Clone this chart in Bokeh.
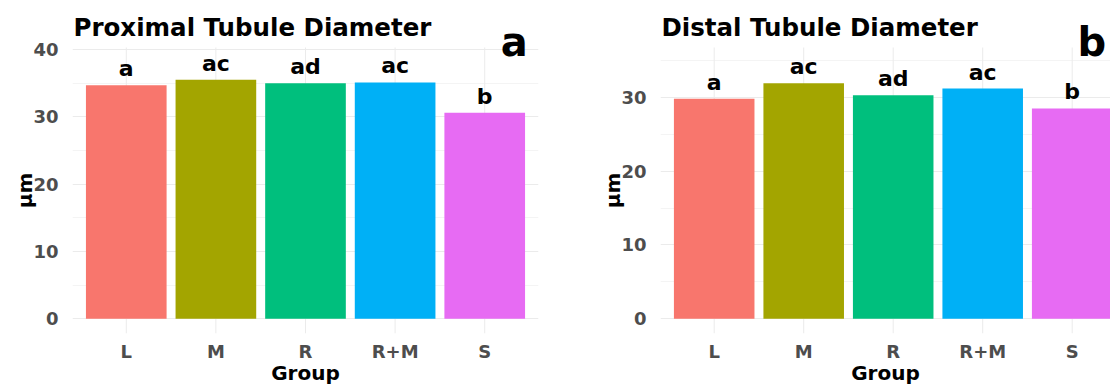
import math
from bokeh.plotting import figure
from bokeh.models import Range1d, FixedTicker, ColumnDataSource, LabelSet, Label
from bokeh.core.properties import value
from bokeh.layouts import row
from bokeh.embed import file_html
from bokeh.resources import INLINE

# ---- data ----
groups = ["L", "M", "R", "R+M", "S"]
colors = ["#F8766D", "#A3A500", "#00BF7D", "#00B0F6", "#E76BF3"]
proximal = [34.7, 35.5, 35.0, 35.1, 30.6]
distal = [29.8, 31.9, 30.3, 31.2, 28.5]
proximal_sig = ["a", "ac", "ad", "ac", "b"]
distal_sig = ["a", "ac", "ad", "ac", "b"]
prox_ticks = [0, 10, 20, 30, 40]
prox_minor = [5, 15, 25, 35]
dist_ticks = [0, 10, 20, 30]
dist_minor = [5, 15, 25, 35]

FONT = "DejaVu Sans"
H = 387
TOP = 4          # frame top (px from figure top)
BOTTOM = 54      # space below the frame
PANEL_TOP = 47   # where the ggplot panel (grid area) starts
YTITLE_GAP = 48  # distance of the y-axis title centre from the panel's left edge


def panel(title, values, sig, tag, ticks, minor, y_start, grid_top, x_end,
          width, border_left, border_right, tag_dx):
    xpos = [i + 1 for i in range(len(groups))]
    frame_h = H - TOP - BOTTOM
    frame_bottom = H - BOTTOM
    grid_h = frame_bottom - PANEL_TOP
    y_end = y_start + (grid_top - y_start) * frame_h / grid_h
    px_per_unit = grid_h / (grid_top - y_start)
    px_per_x = (width - border_left - border_right) / (x_end - 0.4)

    src = ColumnDataSource(dict(x=xpos, top=values, sig=sig, color=colors,
                                y0=[y_start] * len(xpos), y1=[grid_top] * len(xpos)))
    p = figure(width=width, height=H, output_backend="svg", toolbar_location=None,
               title=None,
               x_range=Range1d(0.4, x_end), y_range=Range1d(y_start, y_end),
               min_border_left=border_left, min_border_right=border_right,
               min_border_top=TOP, min_border_bottom=BOTTOM)
    # vertical (category) grid lines, limited to the panel area
    p.segment(x0="x", x1="x", y0="y0", y1="y1", source=src,
              line_color="#EBEBEB", line_width=1)
    p.vbar(x="x", top="top", width=0.9, fill_color="color", line_color=None, source=src)
    p.add_layout(LabelSet(x="x", y="top", text="sig", source=src, y_offset=9,
                          text_align="center", text_baseline="alphabetic",
                          text_font=value(FONT), text_font_style="bold",
                          text_font_size="22px", text_color="black"))
    # title
    p.add_layout(Label(x=1, y=frame_bottom - 26.5, x_units="screen", y_units="screen",
                       text=title, text_align="left", text_baseline="middle",
                       text_font=FONT, text_font_style="bold",
                       text_font_size="24.5px", text_color="black"))
    # panel tag
    p.add_layout(Label(x=len(groups) + tag_dx, y=frame_bottom - 41, y_units="screen",
                       text=tag, text_align="center", text_baseline="middle",
                       text_font=FONT, text_font_style="bold",
                       text_font_size="40px", text_color="black"))
    # y axis title, centred on the panel area
    p.add_layout(Label(x=0.4 - YTITLE_GAP / px_per_x,
                       y=y_start + (grid_h / 2) / px_per_unit,
                       text="µm", angle=math.pi / 2, text_align="center",
                       text_baseline="middle", text_font=FONT,
                       text_font_style="bold", text_font_size="20px",
                       text_color="black"), "left")

    p.xaxis.ticker = FixedTicker(ticks=xpos)
    p.xaxis.major_label_overrides = {float(x): g for x, g in zip(xpos, groups)}
    p.yaxis.ticker = FixedTicker(ticks=ticks, minor_ticks=minor)
    p.xaxis.axis_label = "Group"
    for ax in (p.xaxis, p.yaxis):
        ax.axis_line_color = None
        ax.major_tick_line_color = None
        ax.minor_tick_line_color = None
        ax.major_tick_out = 0
        ax.major_tick_in = 0
        ax.major_label_text_font = FONT
        ax.major_label_text_font_style = "bold"
        ax.major_label_text_font_size = "18px"
        ax.major_label_text_color = "#4D4D4D"
        ax.axis_label_text_font = FONT
        ax.axis_label_text_font_style = "bold"
        ax.axis_label_text_font_size = "20px"
        ax.axis_label_text_color = "black"
    p.xaxis.axis_label_standoff = -4
    p.xaxis.major_label_standoff = 7
    p.yaxis.major_label_standoff = 10
    p.xgrid.grid_line_color = None
    p.ygrid.grid_line_color = "#EBEBEB"
    p.ygrid.minor_grid_line_color = "#F4F4F4"
    p.outline_line_color = None
    p.background_fill_color = "white"
    p.border_fill_color = "white"
    return p


p1 = panel("Proximal Tubule Diameter", proximal, proximal_sig, "a",
           prox_ticks, prox_minor, -2.2, 40.3, 5.6, 555, 72, 17, 0.33)
p2 = panel("Distal Tubule Diameter", distal, distal_sig, "b",
           dist_ticks, dist_minor, -2.0, 36.76, 0.4 + 450 / 89.5, 555, 105, 0, 0.22)

layout = row(p1, p2)
open("out.html", "w").write(file_html(layout, INLINE))
